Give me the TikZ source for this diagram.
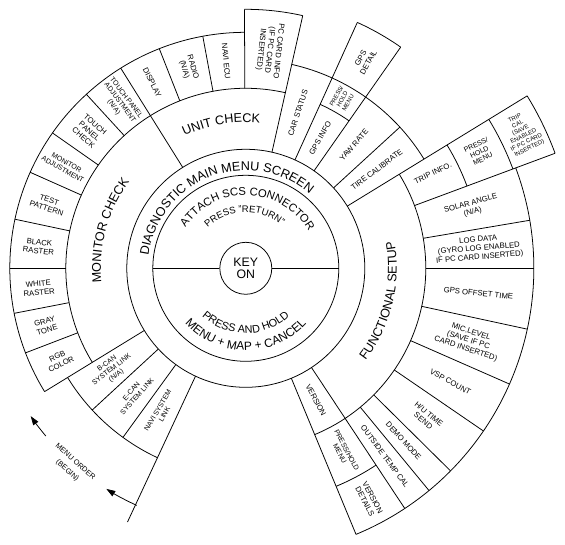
\documentclass[tikz,border=0pt]{standalone}
\usepackage{fontspec}
\setmainfont{Liberation Sans}
\usetikzlibrary{arrows.meta,decorations.text}

\newcommand\ringfont{\fontsize{18}{20}\selectfont}
\newcommand\hubfont{\fontsize{17.5}{17.5}\selectfont}
\newcommand\cellfont{\fontsize{11}{12.5}\selectfont}
\newcommand\cellsmfont{\fontsize{10}{11}\selectfont}
\newcommand\celltinyfont{\fontsize{8.5}{9.5}\selectfont}
\newcommand\orderfont{\fontsize{10.5}{17}\selectfont}

\begin{document}
\begin{tikzpicture}[
  x=0.05cm, y=0.05cm,
  ln/.style={line width=1.1pt, black},
  cell/.style={font=\cellfont, align=center, inner sep=0pt},
  cellsm/.style={cell, font=\cellsmfont},
  celltiny/.style={cell, font=\celltinyfont},
  curved/.style 2 args={decorate, decoration={text along path,
      text align=center, text={|#1|#2}}},
  order/.style={ln, -{Triangle[length=4.5mm, width=3mm]}}
]
  \useasboundingbox (-245.8,-276.7) rectangle (319.2,268.3);

  % Hub
  \node[ln, draw, circle, minimum size=2.6cm, inner sep=0pt,
        font=\hubfont, align=center] (keyOn) at (0,0) {KEY\\ON};
  \coordinate (hubE) at (0:93);
  \coordinate (hubW) at (180:93);
  \draw[ln] (0,0) circle[radius=93];
  \draw[ln] (0,0) circle[radius=119];
  \draw[ln] (keyOn) -- (hubE);
  \draw[ln] (keyOn) -- (hubW);

  % Ring arcs
  \foreach \a/\b/\rad in {77.3/211.5/180, -67.5/31.5/180, 55/65.6/180,
      31.5/77.3/209, 211.5/245/209, 90.3/211.5/236, -67.5/-56.5/236,
      20.4/31.5/236, 77.3/90.3/259, 55/65.6/270, 20.4/31.5/285,
      -67.5/20.4/288, 20.4/31.5/330}
    \draw[ln] (\a:\rad) arc[start angle=\a, end angle=\b, radius=\rad];

  % Cell borders
  \foreach \ang/\ri/\ro in {0/180/288, 180/180/236, 122/119/236,
      77.3/119/259, 90.3/180/259, 100.5/180/236, 111.5/180/236,
      132.5/180/236, 145/180/236, 156/180/236, 168/180/236, 191/180/236,
      201/180/236, 211.5/119/236, 222.7/119/209, 234/119/209,
      245/119/280, -67.5/119/288, -56.5/119/288, -50.5/180/288,
      -44.7/180/288, -34.4/180/288, -23.7/180/288, -12.2/180/288,
      9.6/180/288, 20.4/180/330, 31.5/119/330, 42.5/119/209,
      55/119/270, 65.6/119/270}
    \draw[ln] (\ang:\ri) -- (\ang:\ro);

  % Curved titles
  \path[curved={\ringfont}{DIAGNOSTIC MAIN MENU SCREEN}]
    (200:98) arc[start angle=200, end angle=22, radius=98];
  \path[curved={\fontsize{16}{18}\selectfont}{ATTACH SCS CONNECTOR}]
    (148:73) arc[start angle=148, end angle=28, radius=73];
  \path[curved={\fontsize{13.5}{15}\selectfont}{PRESS "RETURN"}]
    (150:56) arc[start angle=150, end angle=33, radius=56];
  \path[curved={\fontsize{15.5}{17}\selectfont}{PRESS AND HOLD}]
    (200:65) arc[start angle=200, end angle=340, radius=65];
  \path[curved={\fontsize{17}{19}\selectfont}{MENU + MAP + CANCEL}]
    (190:82) arc[start angle=190, end angle=350, radius=82];
  \path[curved={\ringfont}{UNIT CHECK}]
    (122:146) arc[start angle=122, end angle=77.3, radius=146];
  \path[curved={\ringfont}{MONITOR CHECK}]
    (205:145) arc[start angle=205, end angle=124, radius=145];
  \path[curved={\ringfont}{FUNCTIONAL SETUP}]
    (-58:151) arc[start angle=-58, end angle=31, radius=151];

  % Unit check items
  \node[cell, rotate=-96.2] (pcInfo) at (83.8:219.5)
    {PC CARD INFO\\(IF PC CARD\\INSERTED)};
  \node[cell, rotate=-84.6] (naviEcu) at (95.4:208) {NAVI ECU};
  \node[cell, rotate=-74] (radio) at (106:208) {RADIO\\(N/A)};
  \node[cell, rotate=-63.25] (display) at (116.75:208) {DISPLAY};

  % Monitor check items
  \node[cellsm, rotate=-52.75] (tpAdj) at (127.25:208)
    {TOUCH PANEL\\ADJUSTMENT\\(N/A)};
  \node[cell, rotate=-41.25] (tpCheck) at (138.75:208) {TOUCH\\PANEL\\CHECK};
  \node[cellsm, rotate=-29.5] (monAdj) at (150.5:208) {MONITOR\\ADJUSTMENT};
  \node[cell, rotate=-18] (testPat) at (162:208) {TEST\\PATTERN};
  \node[cell, rotate=-6] (blackRaster) at (174:208) {BLACK\\RASTER};
  \node[cell, rotate=5.5] (whiteRaster) at (185.5:208) {WHITE\\RASTER};
  \node[cell, rotate=16] (grayTone) at (196:208) {GRAY\\TONE};
  \node[cell, rotate=26.25] (rgbColor) at (206.25:208) {RGB\\COLOR};
  \node[cellsm, rotate=37.1] (bCan) at (217.1:168)
    {B-CAN\\SYSTEM LINK\\(N/A)};
  \node[cellsm, rotate=48.35] (eCan) at (228.35:168) {E-CAN\\SYSTEM LINK};
  \node[cellsm, rotate=59.5] (naviLink) at (239.5:167) {NAVI SYSTEM\\LINK};

  % Version items
  \node[cell, rotate=-62] (version) at (-62:149.5) {VERSION};
  \node[cellsm, rotate=-62] (verHold) at (-62:208) {PRESS/HOLD\\MENU};
  \node[cell, rotate=-62] (verDetail) at (-62:262) {VERSION\\DETAILS};

  % Functional setup items
  \node[cell, rotate=-53.5] (outTemp) at (-53.5:234) {OUTSIDE TEMP CAL};
  \node[cell, rotate=-47.6] (demoMode) at (-47.6:234) {DEMO MODE};
  \node[cell, rotate=-39.55] (huTime) at (-39.55:234) {H/U TIME\\SEND};
  \node[cell, rotate=-29] (vspCount) at (-29:234) {VSP COUNT};
  \node[cell, rotate=-18] (micLevel) at (-18:234)
    {MIC.LEVEL\\(SAVE IF PC\\CARD INSERTED)};
  \node[cell, rotate=-6.1] (gpsOffset) at (-6.1:234) {GPS OFFSET TIME};
  \node[cell, rotate=4.8] (logData) at (4.8:234)
    {LOG DATA\\(GYRO LOG ENABLED\\IF PC CARD INSERTED)};
  \node[cell, rotate=15] (solarAngle) at (15:234) {SOLAR ANGLE\\(N/A)};
  \node[cell, rotate=26] (tripInfo) at (27:210) {TRIP INFO.};
  \node[cellsm, rotate=26] (tripHold) at (26.5:261) {PRESS/\\HOLD\\MENU};
  \node[celltiny, rotate=26] (tripCal) at (26:307.5)
    {TRIP\\CAL\\(SAVE\\ENABLED\\IF PC CARD\\INSERTED)};

  % Car status items
  \node[cell, rotate=37] (tireCal) at (37:164) {TIRE CALIBRATE};
  \node[cell, rotate=48.75] (yawRate) at (48.75:164) {YAW RATE};
  \node[cell, rotate=60.3] (gpsInfo) at (60.3:150) {GPS INFO};
  \node[celltiny, rotate=60.3] (gpsHold) at (60.3:194.5) {PRESS/\\HOLD\\MENU};
  \node[cell, rotate=60.3] (gpsDetail) at (60.3:239.5) {GPS\\DETAIL};
  \node[cell, rotate=71.45] (carStatus) at (71.45:164) {CAR STATUS};

  % Menu order
  \node[cell, font=\orderfont, rotate=-41.4] (menuOrder) at (228.6:264)
    {MENU ORDER\\(BEGIN)};
  \coordinate (orderA) at (220:261);
  \coordinate (orderB) at (245.3:261);
  \draw[order] (orderA) arc[start angle=220, end angle=214.5, radius=261];
  \draw[order] (orderB) arc[start angle=245.3, end angle=237.7, radius=261];
\end{tikzpicture}
\end{document}
